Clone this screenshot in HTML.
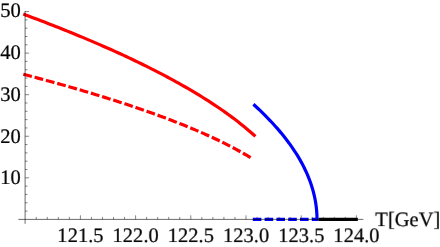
<!DOCTYPE html>
<html><head><meta charset="utf-8"><style>
html,body{margin:0;padding:0;background:#fff;}
svg{display:block}
text{font-family:"Liberation Serif",serif;font-size:20.6px;fill:#000;text-rendering:geometricPrecision;stroke:#000;stroke-width:0.22px}
</style></head><body>
<svg width="440" height="247" viewBox="0 0 440 247">
<rect width="440" height="247" fill="#fff"/>
<g fill="none" stroke-width="3.2">
<path d="M23.30,14.11 L26.24,15.20 L29.18,16.29 L32.11,17.40 L35.05,18.50 L37.99,19.62 L40.93,20.74 L43.87,21.86 L46.80,23.00 L49.74,24.14 L52.68,25.28 L55.62,26.44 L58.56,27.59 L61.49,28.76 L64.43,29.94 L67.37,31.12 L70.31,32.31 L73.25,33.50 L76.18,34.71 L79.12,35.92 L82.06,37.14 L85.00,38.37 L87.94,39.61 L90.87,40.85 L93.81,42.10 L96.75,43.37 L99.69,44.64 L102.63,45.92 L105.56,47.21 L108.50,48.51 L111.44,49.82 L114.38,51.15 L117.32,52.48 L120.25,53.82 L123.19,55.17 L126.13,56.54 L129.07,57.91 L132.01,59.30 L134.94,60.70 L137.88,62.11 L140.82,63.54 L143.76,64.98 L146.69,66.43 L149.63,67.89 L152.57,69.37 L155.51,70.87 L158.45,72.38 L161.38,73.90 L164.32,75.45 L167.26,77.01 L170.20,78.58 L173.14,80.17 L176.07,81.79 L179.01,83.42 L181.95,85.07 L184.89,86.74 L187.83,88.43 L190.76,90.15 L193.70,91.89 L196.64,93.65 L199.58,95.44 L202.52,97.25 L205.45,99.09 L208.39,100.96 L211.33,102.86 L214.27,104.79 L217.21,106.75 L220.14,108.75 L223.08,110.79 L226.02,112.86 L228.96,114.98 L231.90,117.14 L234.83,119.34 L237.77,121.60 L240.71,123.91 L243.65,126.27 L246.59,128.70 L249.52,131.20 L252.46,133.76 L255.40,136.41" stroke="#f00"/>
<path d="M23.30,74.24 L26.20,75.00 L29.11,75.76 L32.01,76.53 L34.92,77.31 L37.82,78.09 L40.72,78.87 L43.63,79.66 L46.53,80.45 L49.43,81.24 L52.34,82.04 L55.24,82.85 L58.15,83.66 L61.05,84.47 L63.95,85.29 L66.86,86.12 L69.76,86.95 L72.66,87.78 L75.57,88.62 L78.47,89.47 L81.38,90.32 L84.28,91.18 L87.18,92.04 L90.09,92.91 L92.99,93.79 L95.89,94.67 L98.80,95.55 L101.70,96.45 L104.61,97.35 L107.51,98.25 L110.41,99.17 L113.32,100.09 L116.22,101.02 L119.13,101.95 L122.03,102.89 L124.93,103.84 L127.84,104.80 L130.74,105.77 L133.64,106.74 L136.55,107.73 L139.45,108.72 L142.36,109.72 L145.26,110.73 L148.16,111.75 L151.07,112.78 L153.97,113.82 L156.87,114.87 L159.78,115.93 L162.68,117.00 L165.59,118.08 L168.49,119.18 L171.39,120.28 L174.30,121.40 L177.20,122.53 L180.11,123.68 L183.01,124.84 L185.91,126.01 L188.82,127.20 L191.72,128.40 L194.62,129.62 L197.53,130.86 L200.43,132.11 L203.34,133.39 L206.24,134.68 L209.14,135.99 L212.05,137.32 L214.95,138.68 L217.85,140.06 L220.76,141.46 L223.66,142.89 L226.57,144.34 L229.47,145.83 L232.37,147.34 L235.28,148.89 L238.18,150.47 L241.08,152.09 L243.99,153.75 L246.89,155.45 L249.80,157.20 L252.70,158.99" stroke="#f00" stroke-dasharray="8.85 2.85"/>
<path d="M253.40,104.30 L255.02,105.78 L256.62,107.25 L258.20,108.73 L259.76,110.20 L261.29,111.68 L262.81,113.16 L264.31,114.63 L265.78,116.11 L267.23,117.58 L268.67,119.06 L270.08,120.54 L271.47,122.01 L272.84,123.49 L274.19,124.96 L275.51,126.44 L276.82,127.92 L278.11,129.39 L279.37,130.87 L280.62,132.34 L281.84,133.82 L283.04,135.29 L284.22,136.77 L285.38,138.25 L286.52,139.72 L287.64,141.20 L288.74,142.67 L289.82,144.15 L290.87,145.63 L291.91,147.10 L292.92,148.58 L293.91,150.05 L294.89,151.53 L295.84,153.01 L296.77,154.48 L297.68,155.96 L298.57,157.43 L299.43,158.91 L300.28,160.39 L301.11,161.86 L301.91,163.34 L302.70,164.81 L303.46,166.29 L304.20,167.77 L304.92,169.24 L305.62,170.72 L306.30,172.19 L306.96,173.67 L307.60,175.15 L308.21,176.62 L308.81,178.10 L309.39,179.57 L309.94,181.05 L310.47,182.53 L310.98,184.00 L311.48,185.48 L311.95,186.95 L312.40,188.43 L312.82,189.91 L313.23,191.38 L313.62,192.86 L313.98,194.33 L314.33,195.81 L314.65,197.28 L314.95,198.76 L315.24,200.24 L315.50,201.71 L315.74,203.19 L315.96,204.66 L316.16,206.14 L316.33,207.62 L316.49,209.09 L316.63,210.57 L316.74,212.04 L316.83,213.52 L316.91,215.00 L316.96,216.47 L316.99,217.95 L317.00,219.42 L316.99,220.90" stroke="#00f"/>
<line x1="252.8" y1="219.45" x2="317" y2="219.45" stroke="#00f" stroke-dasharray="8.6 3.2"/>
<line x1="318.5" y1="219.45" x2="357.8" y2="219.45" stroke="#000"/>
</g>
<g stroke="#000" stroke-opacity="0.47" stroke-width="1" fill="none">
<line x1="18.3" y1="219.4" x2="363.4" y2="219.4" stroke-opacity="0.58"/>
<line x1="25.1" y1="10.9" x2="25.1" y2="223.8" stroke-opacity="0.58"/>
<line x1="36.24" y1="219.4" x2="36.24" y2="216.90"/>
<line x1="47.28" y1="219.4" x2="47.28" y2="216.90"/>
<line x1="58.32" y1="219.4" x2="58.32" y2="216.90"/>
<line x1="69.36" y1="219.4" x2="69.36" y2="216.90"/>
<line x1="80.40" y1="219.4" x2="80.40" y2="215.30"/>
<line x1="91.44" y1="219.4" x2="91.44" y2="216.90"/>
<line x1="102.48" y1="219.4" x2="102.48" y2="216.90"/>
<line x1="113.52" y1="219.4" x2="113.52" y2="216.90"/>
<line x1="124.56" y1="219.4" x2="124.56" y2="216.90"/>
<line x1="135.60" y1="219.4" x2="135.60" y2="215.30"/>
<line x1="146.64" y1="219.4" x2="146.64" y2="216.90"/>
<line x1="157.68" y1="219.4" x2="157.68" y2="216.90"/>
<line x1="168.72" y1="219.4" x2="168.72" y2="216.90"/>
<line x1="179.76" y1="219.4" x2="179.76" y2="216.90"/>
<line x1="190.80" y1="219.4" x2="190.80" y2="215.30"/>
<line x1="201.84" y1="219.4" x2="201.84" y2="216.90"/>
<line x1="212.88" y1="219.4" x2="212.88" y2="216.90"/>
<line x1="223.92" y1="219.4" x2="223.92" y2="216.90"/>
<line x1="234.96" y1="219.4" x2="234.96" y2="216.90"/>
<line x1="246.00" y1="219.4" x2="246.00" y2="215.30"/>
<line x1="257.04" y1="219.4" x2="257.04" y2="216.90"/>
<line x1="268.08" y1="219.4" x2="268.08" y2="216.90"/>
<line x1="279.12" y1="219.4" x2="279.12" y2="216.90"/>
<line x1="290.16" y1="219.4" x2="290.16" y2="216.90"/>
<line x1="301.20" y1="219.4" x2="301.20" y2="215.30"/>
<line x1="312.24" y1="219.4" x2="312.24" y2="216.90"/>
<line x1="323.28" y1="219.4" x2="323.28" y2="216.90"/>
<line x1="334.32" y1="219.4" x2="334.32" y2="216.90"/>
<line x1="345.36" y1="219.4" x2="345.36" y2="216.90"/>
<line x1="356.40" y1="219.4" x2="356.40" y2="215.30"/>
<line x1="25.1" y1="211.09" x2="27.50" y2="211.09"/>
<line x1="25.1" y1="202.77" x2="27.50" y2="202.77"/>
<line x1="25.1" y1="194.46" x2="27.50" y2="194.46"/>
<line x1="25.1" y1="186.14" x2="27.50" y2="186.14"/>
<line x1="25.1" y1="177.83" x2="29.10" y2="177.83"/>
<line x1="25.1" y1="169.52" x2="27.50" y2="169.52"/>
<line x1="25.1" y1="161.20" x2="27.50" y2="161.20"/>
<line x1="25.1" y1="152.89" x2="27.50" y2="152.89"/>
<line x1="25.1" y1="144.57" x2="27.50" y2="144.57"/>
<line x1="25.1" y1="136.26" x2="29.10" y2="136.26"/>
<line x1="25.1" y1="127.95" x2="27.50" y2="127.95"/>
<line x1="25.1" y1="119.63" x2="27.50" y2="119.63"/>
<line x1="25.1" y1="111.32" x2="27.50" y2="111.32"/>
<line x1="25.1" y1="103.00" x2="27.50" y2="103.00"/>
<line x1="25.1" y1="94.69" x2="29.10" y2="94.69"/>
<line x1="25.1" y1="86.38" x2="27.50" y2="86.38"/>
<line x1="25.1" y1="78.06" x2="27.50" y2="78.06"/>
<line x1="25.1" y1="69.75" x2="27.50" y2="69.75"/>
<line x1="25.1" y1="61.43" x2="27.50" y2="61.43"/>
<line x1="25.1" y1="53.12" x2="29.10" y2="53.12"/>
<line x1="25.1" y1="44.81" x2="27.50" y2="44.81"/>
<line x1="25.1" y1="36.49" x2="27.50" y2="36.49"/>
<line x1="25.1" y1="28.18" x2="27.50" y2="28.18"/>
<line x1="25.1" y1="19.86" x2="27.50" y2="19.86"/>
<line x1="25.1" y1="11.55" x2="29.10" y2="11.55"/>
</g>
<g style="will-change:opacity;opacity:0.99" transform="rotate(0.02)">
<text x="80.50" y="241.8" text-anchor="middle">121.5</text>
<text x="135.70" y="241.8" text-anchor="middle">122.0</text>
<text x="190.90" y="241.8" text-anchor="middle">122.5</text>
<text x="246.10" y="241.8" text-anchor="middle">123.0</text>
<text x="301.30" y="241.8" text-anchor="middle">123.5</text>
<text x="356.50" y="241.8" text-anchor="middle">124.0</text>
<text x="20.9" y="184.40" text-anchor="end">10</text>
<text x="20.9" y="142.55" text-anchor="end">20</text>
<text x="20.9" y="101.10" text-anchor="end">30</text>
<text x="20.9" y="59.00" text-anchor="end">40</text>
<text x="20.9" y="17.40" text-anchor="end">50</text>
<text x="375.3" y="226">T[GeV]</text>
</g>
</svg>
</body></html>
